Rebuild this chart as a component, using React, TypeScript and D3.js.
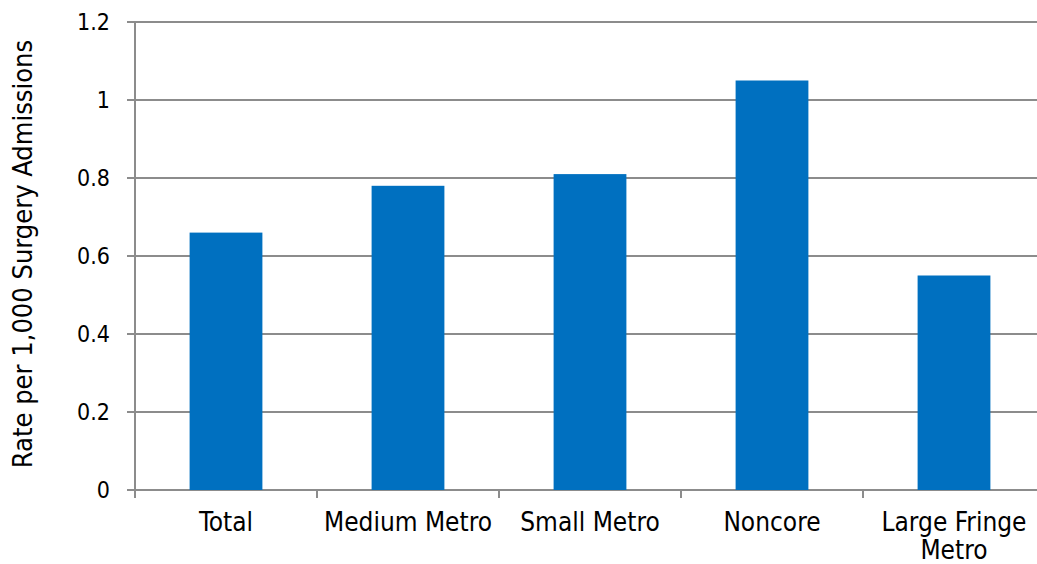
import React from "react";
import * as d3 from "d3";

const categories = ["Total", "Medium Metro", "Small Metro", "Noncore", "Large Fringe Metro"];
const values = [0.66, 0.78, 0.81, 1.05, 0.55];
const yTicks = [0, 0.2, 0.4, 0.6, 0.8, 1.0, 1.2];
const yTickLabels = ["0", "0.2", "0.4", "0.6", "0.8", "1", "1.2"];
const labelLines: string[][] = [["Total"], ["Medium Metro"], ["Small Metro"], ["Noncore"], ["Large Fringe", "Metro"]];
const yTitle = "Rate per 1,000 Surgery Admissions";

export default function App() {
  const W = 1037, H = 564;
  const left = 135, right = 1045, top = 22, bottom = 490;
  const x = d3.scaleBand<string>().domain(categories).range([left, right]).paddingInner(0.6).paddingOuter(0.3);
  const xb = d3.scaleBand<string>().domain(categories).range([left, right]);
  const y = d3.scaleLinear().domain([0, 1.2]).range([bottom, top]);
  const font = "'DejaVu Sans Condensed', 'DejaVu Sans', Verdana, sans-serif";
  const grid = "#8c8c8c";
  return (
    <svg width={W} height={H} style={{ position: "absolute", left: 0, top: 0, background: "#fff" }} fontFamily={font} fontStretch="condensed">
      {yTicks.map((t, i) => (
        <g key={i}>
          <line x1={left - 8} x2={right} y1={y(t)} y2={y(t)} stroke={grid} strokeWidth={2} />
          <text x={left - 25} y={y(t)} dy="0.36em" textAnchor="end" fontSize={23} fill="#000">{yTickLabels[i]}</text>
        </g>
      ))}
      <line x1={left} x2={left} y1={top} y2={bottom + 8} stroke={grid} strokeWidth={2} />
      {categories.map((c, i) => (
        <line key={"t" + i} x1={xb(c)! + xb.bandwidth()} x2={xb(c)! + xb.bandwidth()} y1={bottom} y2={bottom + 8} stroke={grid} strokeWidth={2} />
      ))}
      {categories.map((c, i) => (
        <rect key={"b" + i} x={x(c)} y={y(values[i])} width={x.bandwidth()} height={bottom - y(values[i])} fill="#0070c0" />
      ))}
      {categories.map((c, i) => (
        <text key={"l" + i} x={xb(c)! + xb.bandwidth() / 2} y={531} textAnchor="middle" fontSize={26} fill="#000">
          {labelLines[i].map((s, j) => (
            <tspan key={j} x={xb(c)! + xb.bandwidth() / 2} dy={j === 0 ? 0 : 28}>{s}</tspan>
          ))}
        </text>
      ))}
      <text transform={`translate(32,254) rotate(-90)`} textAnchor="middle" fontSize={27} fill="#000">{yTitle}</text>
    </svg>
  );
}
